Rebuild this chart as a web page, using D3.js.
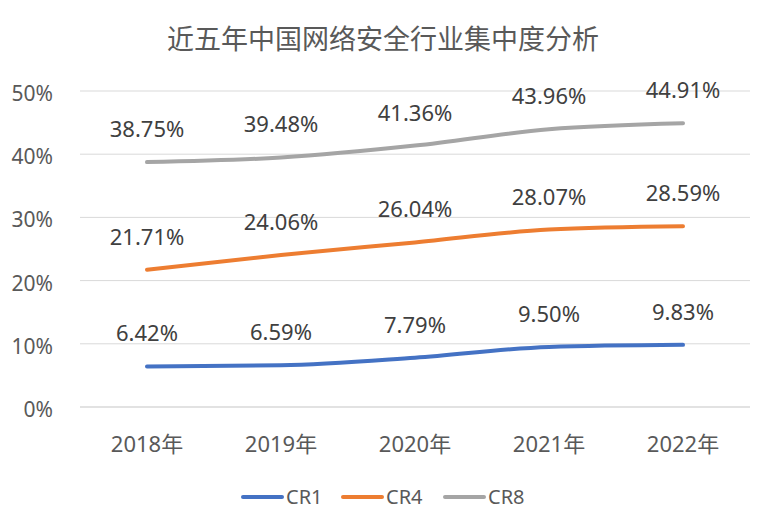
<!DOCTYPE html>
<html>
<head>
<meta charset="utf-8">
<script src="https://cdn.jsdelivr.net/npm/d3@7"></script>
<style>
  body { margin: 0; background: #fff; }
  text { font-family: "Noto Sans", "Noto Sans CJK SC", sans-serif; }
</style>
</head>
<body>
<div id="chart"></div>
<script>
// Dữ liệu
const years = ["2018年", "2019年", "2020年", "2021年", "2022年"];
const cr1 = [6.42, 6.59, 7.79, 9.50, 9.83];
const cr4 = [21.71, 24.06, 26.04, 28.07, 28.59];
const cr8 = [38.75, 39.48, 41.36, 43.96, 44.91];
const yTicks = [0, 10, 20, 30, 40, 50];
const seriesNames = ["CR1", "CR4", "CR8"];
const seriesColors = ["#4472C4", "#ED7D31", "#A5A5A5"];

const W = 764, H = 530;
const margin = { top: 91, right: 14, bottom: 123, left: 80 };
const width = W - margin.left - margin.right,
      height = H - margin.top - margin.bottom;

const svg = d3.select("#chart").append("svg")
  .attr("width", W).attr("height", H);

// Tiêu đề
svg.append("text")
  .attr("x", 383).attr("y", 49)
  .attr("text-anchor", "middle")
  .style("font-size", "27px")
  .style("fill", "#595959")
  .style("font-family", "'Noto Sans CJK SC', sans-serif")
  .text("近五年中国网络安全行业集中度分析");

const g = svg.append("g")
  .attr("transform", `translate(${margin.left},${margin.top})`);

const x = d3.scaleBand().domain(years).range([0, width]);
const y = d3.scaleLinear().domain([0, 50]).range([height, 0]);

// Lưới
g.selectAll("line.grid")
  .data(yTicks)
  .enter().append("line")
    .attr("class", "grid")
    .attr("x1", 0).attr("x2", width)
    .attr("y1", d => y(d)).attr("y2", d => y(d))
    .attr("stroke", "#D9D9D9")
    .attr("stroke-width", d => d === 0 ? 1.5 : 1);

// Trục Y
const yAxis = g.append("g")
  .call(d3.axisLeft(y).tickValues(yTicks).tickFormat(d => d + "%").tickSize(0).tickPadding(27));
yAxis.select(".domain").remove();
yAxis.selectAll("text")
  .attr("dy", "0.45em")
  .style("font-size", "21px")
  .style("fill", "#595959")
  .style("font-family", "'Noto Sans', sans-serif");

// Trục X
const xAxis = g.append("g")
  .attr("transform", `translate(0,${height})`)
  .call(d3.axisBottom(x).tickSize(0).tickPadding(0));
xAxis.select(".domain").remove();
xAxis.selectAll("text")
  .attr("y", 45)
  .attr("dy", 0)
  .style("font-size", "22px")
  .style("fill", "#595959")
  .style("font-family", "'Noto Sans', 'Noto Sans CJK SC', sans-serif");

const data = [cr1, cr4, cr8];

const line = d3.line()
  .x((d, i) => x(years[i]) + x.bandwidth() / 2)
  .y(d => y(d))
  .curve(d3.curveMonotoneX);

data.forEach((vals, k) => {
  g.append("path")
    .datum(vals)
    .attr("fill", "none")
    .attr("stroke", seriesColors[k])
    .attr("stroke-width", 4)
    .attr("stroke-linecap", "round")
    .attr("d", line);

  g.selectAll("text.lbl" + k)
    .data(vals)
    .enter().append("text")
      .attr("class", "lbl" + k)
      .attr("x", (d, i) => x(years[i]) + x.bandwidth() / 2)
      .attr("y", d => y(d) - 25)
      .attr("text-anchor", "middle")
      .style("font-size", "22px")
      .style("fill", "#404040")
      .text(d => d.toFixed(2) + "%");
});

// Chú thích
const legend = svg.append("g").attr("transform", "translate(243,497)");
const legendX = [0, 100, 202];
seriesNames.forEach((name, k) => {
  const lg = legend.append("g").attr("transform", `translate(${legendX[k]},0)`);
  lg.append("line")
    .attr("x1", 0).attr("x2", 39)
    .attr("y1", 0).attr("y2", 0)
    .attr("stroke", seriesColors[k])
    .attr("stroke-width", 4)
    .attr("stroke-linecap", "round");
  lg.append("text")
    .attr("x", 43).attr("y", 7)
    .style("font-size", "20px")
    .style("fill", "#595959")
    .text(name);
});
</script>
</body>
</html>
